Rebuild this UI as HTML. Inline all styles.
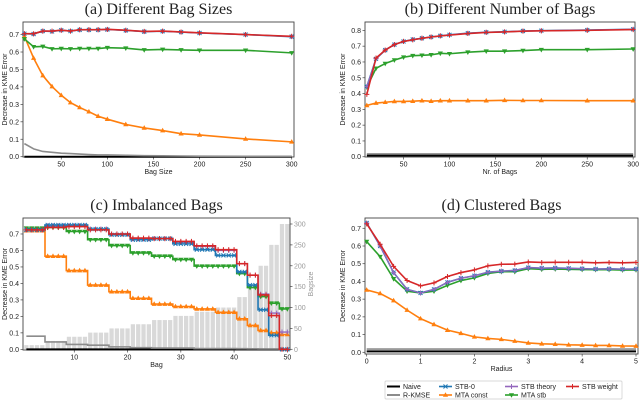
<!DOCTYPE html>
<html><head><meta charset="utf-8"><style>
html,body{margin:0;padding:0;background:#fff;}
svg{display:block;font-family:"Liberation Sans",sans-serif;}
.t{font-family:"Liberation Serif",serif;font-size:16px;fill:#222;}
.tk{font-size:7px;fill:#222;}
</style></head><body>
<svg id="fig" width="640" height="401" viewBox="0 0 640 401"></svg>
<script>
// ---------- data ----------
const aX=[10,20,30,40,50,60,70,80,90,100,120,140,160,180,200,250,300];
const aRed=[0.705,0.705,0.72,0.72,0.725,0.72,0.728,0.728,0.728,0.73,0.725,0.718,0.72,0.715,0.71,0.70,0.69];
const aBlue=[0.705,0.703,0.72,0.718,0.725,0.72,0.727,0.727,0.727,0.729,0.724,0.717,0.719,0.714,0.709,0.70,0.688];
const aGreen=[0.675,0.63,0.632,0.618,0.62,0.618,0.62,0.62,0.62,0.625,0.622,0.612,0.615,0.612,0.61,0.61,0.595];
const aOrange=[0.69,0.565,0.465,0.402,0.352,0.31,0.282,0.258,0.232,0.215,0.185,0.165,0.15,0.132,0.125,0.102,0.085];
const aGray=[0.075,0.045,0.03,0.025,0.02,0.018,0.015,0.012,0.01,0.01,0.008,0.006,0.005,0.004,0.003,0.002,0.002];
const aBlack=[0,0,0,0,0,0,0,0,0,0,0,0,0,0,0,0,0];

const bX=[10,20,30,40,50,60,70,80,90,100,120,140,160,180,200,250,300];
const bRed=[0.395,0.625,0.675,0.71,0.73,0.74,0.75,0.758,0.765,0.77,0.78,0.787,0.79,0.795,0.797,0.80,0.805];
const bBlue=[0.445,0.62,0.675,0.71,0.73,0.742,0.75,0.758,0.765,0.772,0.782,0.788,0.791,0.796,0.798,0.802,0.807];
const bGreen=[0.44,0.56,0.59,0.612,0.63,0.64,0.642,0.645,0.655,0.652,0.662,0.668,0.668,0.672,0.678,0.678,0.682];
const bOrange=[0.325,0.34,0.345,0.35,0.35,0.352,0.355,0.352,0.355,0.355,0.355,0.355,0.357,0.356,0.356,0.355,0.355];
const bGray=[0.018,0.018,0.018,0.018,0.018,0.018,0.018,0.018,0.018,0.018,0.018,0.018,0.018,0.018,0.018,0.018,0.018];
const bBlack=[0.008,0.008,0.008,0.008,0.008,0.008,0.008,0.008,0.008,0.008,0.008,0.008,0.008,0.008,0.008,0.008,0.008];

// imbalanced bags: values per group of bags
const cGroupStart=[1,5,9,13,17,21,25,29,33,37,41,43,45,47,49];
const cGroupEnd=[4,8,12,16,20,24,28,32,36,40,42,44,46,48,50];
const cBagsize=[10,20,30,40,50,60,70,80,90,100,125,150,200,250,300];
const cRed=[0.725,0.74,0.745,0.725,0.70,0.675,0.672,0.655,0.628,0.605,0.52,0.45,0.33,0.205,0.0];
const cBlue=[0.725,0.755,0.755,0.73,0.695,0.665,0.672,0.64,0.605,0.57,0.47,0.39,0.24,0.085,0.0];
const cPurple=[0.725,0.75,0.75,0.73,0.70,0.67,0.672,0.65,0.625,0.60,0.52,0.45,0.335,0.22,0.105];
const cGreen=[0.735,0.74,0.715,0.665,0.63,0.585,0.565,0.545,0.505,0.505,0.46,0.375,0.32,0.28,0.245];
const cOrange=[0.72,0.565,0.478,0.39,0.35,0.31,0.275,0.26,0.245,0.225,0.185,0.145,0.115,0.10,0.09];
const cGray=[0.08,0.045,0.03,0.025,0.015,0.01,0.008,0.008,0.005,0.005,0.004,0.003,0.002,0.002,0.002];
const cBlack=[0,0,0,0,0,0,0,0,0,0,0,0,0,0,0];

const dX=[0,0.25,0.5,0.75,1,1.25,1.5,1.75,2,2.25,2.5,2.75,3,3.25,3.5,3.75,4,4.25,4.5,4.75,5];
const dRed=[0.725,0.61,0.485,0.405,0.375,0.392,0.428,0.45,0.465,0.488,0.497,0.498,0.51,0.507,0.508,0.508,0.508,0.505,0.507,0.505,0.507];
const dBlue=[0.73,0.6,0.45,0.355,0.335,0.355,0.395,0.418,0.432,0.452,0.458,0.462,0.478,0.475,0.476,0.474,0.472,0.470,0.471,0.469,0.470];
const dGreen=[0.625,0.54,0.415,0.345,0.335,0.345,0.378,0.405,0.42,0.445,0.455,0.455,0.472,0.468,0.47,0.468,0.467,0.466,0.466,0.464,0.465];
const dOrange=[0.352,0.332,0.292,0.238,0.19,0.157,0.125,0.107,0.087,0.078,0.073,0.063,0.053,0.048,0.046,0.042,0.041,0.039,0.039,0.036,0.035];
const dGray=[0.018,0.018,0.018,0.018,0.018,0.018,0.018,0.018,0.018,0.018,0.018,0.018,0.018,0.018,0.018,0.018,0.018,0.018,0.018,0.018,0.018];
const dBlack=[0.005,0.005,0.005,0.005,0.005,0.005,0.005,0.005,0.005,0.005,0.005,0.005,0.005,0.005,0.005,0.005,0.005,0.005,0.005,0.005,0.005];

const aXTicks=[50,100,150,200,250,300];
const aYTicks=[0,0.1,0.2,0.3,0.4,0.5,0.6,0.7];
const bYTicks=[0,0.1,0.2,0.3,0.4,0.5,0.6,0.7,0.8];
const cXTicks=[10,20,30,40,50];
const cRTicks=[0,50,100,150,200,250,300];
const dXTicks=[0,1,2,3,4,5];

const C={black:'#000',gray:'#8c8c8c',blue:'#1f77b4',orange:'#ff7f0e',purple:'#9467bd',green:'#2ca02c',red:'#d62728'};
// ---------- helpers ----------
const NS='http://www.w3.org/2000/svg';
const svg=document.getElementById('fig');
function mk(tag,at,parent){const e=document.createElementNS(NS,tag);for(const k in at)e.setAttribute(k,at[k]);(parent||svg).appendChild(e);return e;}
function fmt(v){return v.toFixed(1);}
function marker(g,type,x,y,col){
  let e;
  if(type==='x'){e=mk('path',{d:`M${x-2},${y-2}L${x+2},${y+2}M${x-2},${y+2}L${x+2},${y-2}`,stroke:col,'stroke-width':1},g);}
  else if(type==='+'){e=mk('path',{d:`M${x-2.5},${y}L${x+2.5},${y}M${x},${y-2.5}L${x},${y+2.5}`,stroke:col,'stroke-width':1},g);}
  else if(type==='^'){e=mk('path',{d:`M${x},${y-2.8}L${x+2.6},${y+1.8}L${x-2.6},${y+1.8}Z`,fill:col},g);}
  else if(type==='v'){e=mk('path',{d:`M${x},${y+2.8}L${x+2.6},${y-1.8}L${x-2.6},${y-1.8}Z`,fill:col},g);}
  else if(type==='4'){e=mk('path',{d:`M${x-2.5},${y}L${x+2.5},${y}M${x},${y-2.5}L${x},${y+2.5}`,stroke:col,'stroke-width':1},g);}
  if(e){}
}
function panel(o){
  const g=mk('g',{});
  
  
  const sx=v=>o.x0+(v-o.xmin)/(o.xmax-o.xmin)*(o.x1-o.x0);
  const sy=v=>o.y1-(v-o.ymin)/(o.ymax-o.ymin)*(o.y1-o.y0);
  const t=mk('text',{x:(o.x0+o.x1)/2,y:o.y0-8,'text-anchor':'middle',class:'t'},g);t.textContent=o.title;
  
  return {g,sx,sy};
}
function axes(p,o,xt,yt,xlabel){
  const {g,sx,sy}=p;
  const fr=mk('rect',{x:o.x0,y:o.y0,width:o.x1-o.x0,height:o.y1-o.y0,fill:'none',stroke:'#444','stroke-width':0.9},g);
  
  xt.forEach(v=>{const x=sx(v);mk('line',{x1:x,x2:x,y1:o.y1,y2:o.y1+2.5,stroke:'#444','stroke-width':0.7},g);
    const tx=mk('text',{x:x,y:o.y1+9.5,'text-anchor':'middle',class:'tk'},g);tx.textContent=o.xfmt?o.xfmt(v):v;
    });
  yt.forEach(v=>{const y=sy(v);mk('line',{x1:o.x0-2.5,x2:o.x0,y1:y,y2:y,stroke:'#444','stroke-width':0.7},g);
    const ty=mk('text',{x:o.x0-4,y:y+2.5,'text-anchor':'end',class:'tk'},g);ty.textContent=fmt(v);
    });
  const xl=mk('text',{x:(o.x0+o.x1)/2,y:o.y1+17,'text-anchor':'middle',class:'tk'},g);xl.textContent=xlabel;
  
  const cy=(o.y0+o.y1)/2, lx=o.ylx;
  const yl=mk('text',{x:lx,y:cy,'text-anchor':'middle',class:'tk',transform:`rotate(-90 ${lx} ${cy})`},g);yl.textContent='Decrease in KME Error';
  
}
function series(p,xs,ys,col,mkType,name,w){
  const pts=xs.map((x,i)=>p.sx(x).toFixed(2)+','+p.sy(ys[i]).toFixed(2)).join(' ');
  const l=mk('polyline',{points:pts,fill:'none',stroke:col,'stroke-width':w||1.6,'stroke-linejoin':'round'},p.g);
  
  if(mkType)xs.forEach((x,i)=>marker(p.g,mkType,p.sx(x),p.sy(ys[i]),col));
}
function stepSeries(p,vals,col,mkType,name,w){
  let pts=[];
  vals.forEach((v,i)=>{pts.push([p.sx(cGroupStart[i]-0.5),p.sy(v)]);pts.push([p.sx(cGroupEnd[i]+0.5),p.sy(v)]);});
  pts[0][0]=p.sx(1);pts[pts.length-1][0]=p.sx(50);
  const l=mk('polyline',{points:pts.map(q=>q[0].toFixed(2)+','+q[1].toFixed(2)).join(' '),fill:'none',stroke:col,'stroke-width':w||1.6},p.g);
  
  if(mkType)vals.forEach((v,i)=>{for(let b=cGroupStart[i];b<=cGroupEnd[i];b++)marker(p.g,mkType,p.sx(b),p.sy(v),col);});
}
// ---------- panel a ----------
const oA={name:'panel-a',title:'(a) Different Bag Sizes',x0:23,x1:294,y0:22,y1:157,xmin:8.5,xmax:302.5,ymin:-0.0017,ymax:0.772,ylx:7};
const pA=panel(oA);axes(pA,oA,aXTicks,aYTicks,'Bag Size');
series(pA,aX,aBlack,C.black,null,'naive-line',2);
series(pA,aX,aGray,C.gray,null,'r-kmse-line',1.6);
series(pA,aX,aOrange,C.orange,'^','mta-const-line');
series(pA,aX,aGreen,C.green,'v','mta-stb-line');
series(pA,aX,aBlue,C.blue,'x','stb-0-line');
series(pA,aX,aBlue,C.purple,'4','stb-theory-line',1.2);
series(pA,aX,aRed,C.red,'+','stb-weight-line');
// ---------- panel b ----------
const oB={name:'panel-b',title:'(b) Different Number of Bags',x0:365,x1:635,y0:22,y1:157,xmin:8,xmax:302,ymin:-0.0016,ymax:0.853,ylx:345};
const pB=panel(oB);axes(pB,oB,aXTicks,bYTicks,'Nr. of Bags');
series(pB,bX,bBlack,C.black,null,'naive-line',2);
series(pB,bX,bGray,C.gray,null,'r-kmse-line',1.6);
series(pB,bX,bOrange,C.orange,'^','mta-const-line');
series(pB,bX,bGreen,C.green,'v','mta-stb-line');
series(pB,bX,bBlue,C.blue,'x','stb-0-line');
series(pB,bX,bBlue,C.purple,'4','stb-theory-line',1.2);
series(pB,bX,bRed,C.red,'+','stb-weight-line');
// ---------- panel c ----------
const oC={name:'panel-c',title:'(c) Imbalanced Bags',x0:23,x1:290,y0:218,y1:350,xmin:0.37,xmax:50.5,ymin:-0.004,ymax:0.797,ylx:7};
const pC=panel(oC);
const rY=v=>349.3-v/300*(349.3-224);
cBagsize.forEach((s,i)=>{for(let b=cGroupStart[i];b<=cGroupEnd[i];b++){
  const x=pC.sx(b-0.4),w=pC.sx(b+0.4)-x,y=rY(s);
  const r=mk('rect',{x:x,y:y,width:w,height:349.3-y,fill:'#d9d9d9'},pC.g);
  }});
axes(pC,oC,cXTicks,aYTicks,'Bag');
cRTicks.forEach(v=>{const y=rY(v);mk('line',{x1:oC.x1,x2:oC.x1+2.5,y1:y,y2:y,stroke:'#444','stroke-width':0.7},pC.g);
  const t=mk('text',{x:oC.x1+4,y:y+2.5,class:'tk',fill:'#999',style:'fill:#999'},pC.g);t.textContent=v;
  });
const ry=mk('text',{x:313,y:284,'text-anchor':'middle',class:'tk',style:'fill:#999',transform:'rotate(-90 313 284)'},pC.g);ry.textContent='Bagsize';

stepSeries(pC,cBlack,C.black,null,'naive-line',2);
stepSeries(pC,cGray,C.gray,null,'r-kmse-line',1.6);
stepSeries(pC,cOrange,C.orange,'^','mta-const-line');
stepSeries(pC,cGreen,C.green,'v','mta-stb-line');
stepSeries(pC,cPurple,C.purple,'4','stb-theory-line',1.4);
stepSeries(pC,cBlue,C.blue,'x','stb-0-line');
stepSeries(pC,cRed,C.red,'+','stb-weight-line');
// ---------- panel d ----------
const oD={name:'panel-d',title:'(d) Clustered Bags',x0:365,x1:638,y0:218,y1:354,xmin:-0.031,xmax:5.037,ymin:-0.0096,ymax:0.758,ylx:345};
const pD=panel(oD);axes(pD,oD,dXTicks,aYTicks,'Radius');
series(pD,dX,dBlack,C.black,null,'naive-line',2);
series(pD,dX,dGray,C.gray,null,'r-kmse-line',1.6);
series(pD,dX,dOrange,C.orange,'^','mta-const-line');
series(pD,dX,dGreen,C.green,'v','mta-stb-line');
series(pD,dX,dBlue,C.blue,'x','stb-0-line');
series(pD,dX,dBlue,C.purple,'4','stb-theory-line',1.2);
series(pD,dX,dRed,C.red,'+','stb-weight-line');
// ---------- legend ----------
const lg=mk('g',{});

const lb=mk('rect',{x:385,y:381,width:237,height:18,fill:'#fff',stroke:'#ccc','stroke-width':0.7,rx:1},lg);
const legNames=['Naive','R-KMSE','STB-0','MTA const','STB theory','MTA stb','STB weight'];
const legCols=[C.black,C.gray,C.blue,C.orange,C.purple,C.green,C.red];
const legMk=[null,null,'x','^','4','v','+'];
const colX=[387,439,505,566];
legNames.forEach((n,i)=>{
  const col=Math.floor(i/2),row=i%2;
  const x=colX[col],y=row?395:386.5;
  const e=mk('g',{},lg);
  
  mk('line',{x1:x,x2:x+13,y1:y,y2:y,stroke:legCols[i],'stroke-width':i<2?2:1.6},e);
  if(legMk[i])marker(e,legMk[i],x+6.5,y,legCols[i]);
  const t=mk('text',{x:x+16,y:y+2.4,class:'tk'},e);t.textContent=n;
});
</script>
</body></html>
